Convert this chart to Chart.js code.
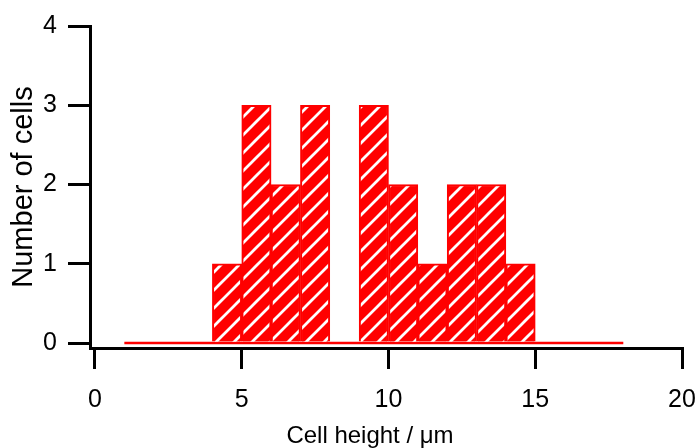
<!DOCTYPE html>
<html>
<head>
<meta charset="utf-8">
<script src="https://cdn.jsdelivr.net/npm/chart.js@4/dist/chart.umd.min.js"></script>
<style>
  html, body { margin: 0; padding: 0; background: #fff; }
  #wrap { width: 695px; height: 448px; }
</style>
</head>
<body>
<div id="wrap"><canvas id="chart" width="695" height="448"></canvas></div>
<script>
// Histogram of cell heights, 1 µm bins
const binStarts = [4, 5, 6, 7, 8, 9, 10, 11, 12, 13, 14];
const cellCounts = [1, 3, 2, 3, 0, 3, 2, 1, 2, 2, 1];
const binWidth = 1;
// zero line spanning the measured range
const baselineX = [1, 18];
const baselineY = [0, 0];
const xTicks = [0, 5, 10, 15, 20];
const yTicks = [0, 1, 2, 3, 4];
const xTitle = 'Cell height / μm';
const yTitle = 'Number of cells';

const FONT = '"Liberation Sans", Arial, Helvetica, sans-serif';
const RED = '#ff0000';

// red fill with white diagonal hatching
function makeHatch() {
  const s = 18;
  const c = document.createElement('canvas');
  c.width = s; c.height = s;
  const g = c.getContext('2d');
  g.fillStyle = RED;
  g.fillRect(0, 0, s, s);
  g.strokeStyle = '#ffffff';
  g.lineWidth = 2.8;
  g.lineCap = 'square';
  g.beginPath();
  g.moveTo(0, s); g.lineTo(s, 0);
  g.moveTo(-4, 4); g.lineTo(4, -4);
  g.moveTo(s - 4, s + 4); g.lineTo(s + 4, s - 4);
  g.stroke();
  return document.getElementById('chart').getContext('2d').createPattern(c, 'repeat');
}

const barData = binStarts.map((b, i) => ({ x: b + binWidth / 2, y: cellCounts[i] }));
const lineData = baselineX.map((x, i) => ({ x: x, y: baselineY[i] }));

const xTitlePlugin = {
  id: 'xTitle',
  afterDraw(chart) {
    const { ctx, chartArea } = chart;
    ctx.save();
    ctx.font = '24px ' + FONT;
    ctx.fillStyle = '#000';
    ctx.textAlign = 'center';
    ctx.textBaseline = 'middle';
    ctx.fillText(xTitle, (chartArea.left + chartArea.right) / 2 - 16, chart.height - 12);
    ctx.restore();
  }
};

const axisGrid = (len) => ({
  display: true,
  offset: false,
  drawOnChartArea: false,
  drawTicks: true,
  tickLength: len,
  tickWidth: 3,
  lineWidth: 3,
  color: '#000',
  tickColor: '#000'
});

new Chart(document.getElementById('chart'), {
  data: {
    datasets: [
      {
        type: 'line',
        data: lineData,
        borderColor: RED,
        borderWidth: 2.5,
        pointRadius: 0,
        order: 2
      },
      {
        type: 'bar',
        data: barData,
        backgroundColor: makeHatch(),
        borderColor: RED,
        borderWidth: 2,
        barPercentage: 1,
        categoryPercentage: 1,
        order: 1
      }
    ]
  },
  options: {
    responsive: false,
    animation: false,
    devicePixelRatio: 1,
    layout: { padding: { top: 24, right: 13, bottom: 0, left: 0 } },
    plugins: { legend: { display: false }, tooltip: { enabled: false } },
    scales: {
      x: {
        type: 'linear',
        offset: false,
        min: -0.17,
        max: 20,
        afterBuildTicks: (s) => { s.ticks = xTicks.map(v => ({ value: v })); },
        afterFit: (s) => { s.height = 100; s.paddingLeft = 0; s.paddingRight = 0; },
        grid: axisGrid(21),
        border: { display: true, color: '#000', width: 3 },
        ticks: { color: '#000', font: { family: FONT, size: 25 }, padding: 16, maxRotation: 0, autoSkip: false },
        title: { display: false }
      },
      y: {
        type: 'linear',
        offset: false,
        min: -0.063,
        max: 4,
        afterBuildTicks: (s) => { s.ticks = yTicks.map(v => ({ value: v })); },
        afterFit: (s) => { s.width = 90; },
        grid: axisGrid(22),
        border: { display: true, color: '#000', width: 3 },
        ticks: { color: '#000', font: { family: FONT, size: 25 }, padding: 11, autoSkip: false },
        title: {
          display: true,
          text: yTitle,
          color: '#000',
          font: { family: FONT, size: 29, lineHeight: 1 },
          padding: { top: 9, bottom: 0 }
        }
      }
    }
  },
  plugins: [xTitlePlugin]
});
</script>
</body>
</html>
